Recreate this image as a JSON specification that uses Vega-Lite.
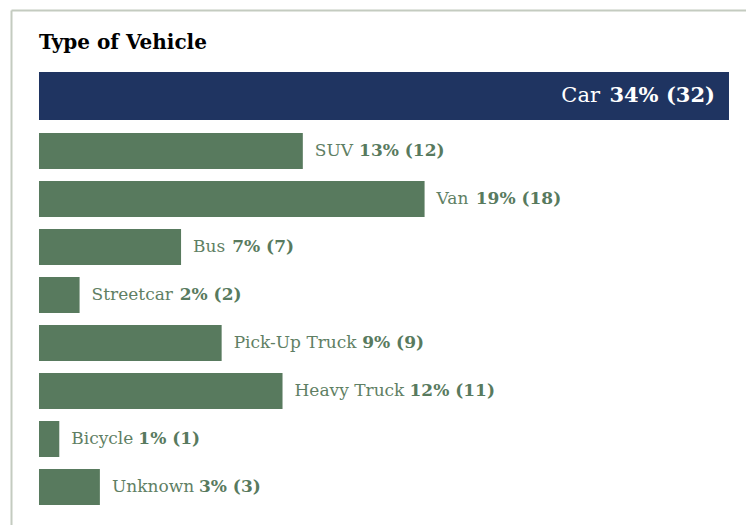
{
  "$schema": "https://vega.github.io/schema/vega-lite/v6.json",
  "width": 735,
  "height": 515,
  "autosize": {"type": "none"},
  "padding": {"left": 11, "top": 10, "right": 0, "bottom": 0},
  "background": "white",
  "title": {
    "text": "Type of Vehicle",
    "anchor": "start",
    "frame": "group",
    "font": "DejaVu Serif",
    "fontSize": 20,
    "fontWeight": "bold",
    "color": "#000000",
    "dx": 28,
    "dy": 59,
    "offset": 0,
    "baseline": "alphabetic"
  },
  "config": {"view": {"stroke": null}},
  "data": {
    "values": [
      {"vehicle": "Car", "pct": 34, "count": 32},
      {"vehicle": "SUV", "pct": 13, "count": 12},
      {"vehicle": "Van", "pct": 19, "count": 18},
      {"vehicle": "Bus", "pct": 7, "count": 7},
      {"vehicle": "Streetcar", "pct": 2, "count": 2},
      {"vehicle": "Pick-Up Truck", "pct": 9, "count": 9},
      {"vehicle": "Heavy Truck", "pct": 12, "count": 11},
      {"vehicle": "Bicycle", "pct": 1, "count": 1},
      {"vehicle": "Unknown", "pct": 3, "count": 3}
    ]
  },
  "transform": [
    {"calculate": "datum.pct + '% (' + datum.count + ')'", "as": "share"}
  ],
  "encoding": {
    "y": {
      "field": "vehicle",
      "type": "nominal",
      "sort": null,
      "scale": {
        "domain": ["Car", "SUV", "Van", "Bus", "Streetcar", "Pick-Up Truck", "Heavy Truck", "Bicycle", "Unknown"],
        "paddingInner": 0,
        "paddingOuter": 0.8646,
        "align": 0.8313
      },
      "axis": {
        "orient": "left",
        "domain": true,
        "domainColor": "#c4cbc0",
        "domainWidth": 2,
        "ticks": false,
        "labels": false,
        "grid": false,
        "title": null
      }
    },
    "x": {
      "field": "pct",
      "type": "quantitative",
      "scale": {"domain": [-1.3797, 34.838], "nice": false, "zero": false},
      "axis": {
        "orient": "top",
        "domain": true,
        "domainColor": "#c4cbc0",
        "domainWidth": 2,
        "ticks": false,
        "labels": false,
        "grid": false,
        "title": null
      }
    }
  },
  "layer": [
    {
      "transform": [{"filter": "datum.vehicle !== 'Car'"}],
      "mark": {"type": "bar", "size": 36, "color": "#587a5e"},
      "encoding": {"x2": {"datum": 0}}
    },
    {
      "transform": [{"filter": "datum.vehicle === 'Car'"}],
      "mark": {"type": "bar", "size": 48, "yOffset": -7, "color": "#1f3461"},
      "encoding": {"x2": {"datum": 0}}
    },
    {
      "transform": [{"filter": "datum.vehicle !== 'Car'"}],
      "mark": {
        "type": "text",
        "align": "left",
        "baseline": "alphabetic",
        "dx": 12,
        "dy": 5,
        "font": "DejaVu Serif",
        "fontSize": 17,
        "color": "#5f7f64"
      },
      "encoding": {"text": {"field": "vehicle"}}
    },
    {
      "transform": [{"filter": "datum.vehicle !== 'Car'"}],
      "mark": {
        "type": "text",
        "align": "left",
        "baseline": "alphabetic",
        "dx": {"expr": "12 + 6 + 17*(0.60*length(datum.vehicle) - 0.34*(length(datum.vehicle)-length(replace(datum.vehicle, regexp('[il]','g'), ''))) - 0.17*(length(datum.vehicle)-length(replace(datum.vehicle, regexp('[tr-]','g'), ''))) - 0.04*(length(datum.vehicle)-length(replace(datum.vehicle, regexp('c','g'), ''))) + 0.15*(length(datum.vehicle)-length(replace(datum.vehicle, regexp('[A-Z]','g'), ''))) - 0.28*(length(datum.vehicle)-length(replace(datum.vehicle, regexp(' ','g'), ''))) + 0.42*(length(datum.vehicle)-length(replace(datum.vehicle, regexp('w','g'), ''))))"},
        "dy": 5,
        "font": "DejaVu Serif",
        "fontSize": 17,
        "fontWeight": "bold",
        "color": "#587a5e"
      },
      "encoding": {"text": {"field": "share"}}
    },
    {
      "transform": [{"filter": "datum.vehicle === 'Car'"}],
      "mark": {
        "type": "text",
        "align": "right",
        "baseline": "alphabetic",
        "dx": -14,
        "dy": -1,
        "font": "DejaVu Serif",
        "fontSize": 21,
        "fontWeight": "bold",
        "color": "#ffffff"
      },
      "encoding": {"text": {"field": "share"}}
    },
    {
      "transform": [{"filter": "datum.vehicle === 'Car'"}],
      "mark": {
        "type": "text",
        "align": "right",
        "baseline": "alphabetic",
        "dx": -129,
        "dy": -1,
        "font": "DejaVu Serif",
        "fontSize": 21,
        "color": "#ffffff"
      },
      "encoding": {"text": {"field": "vehicle"}}
    }
  ]
}
